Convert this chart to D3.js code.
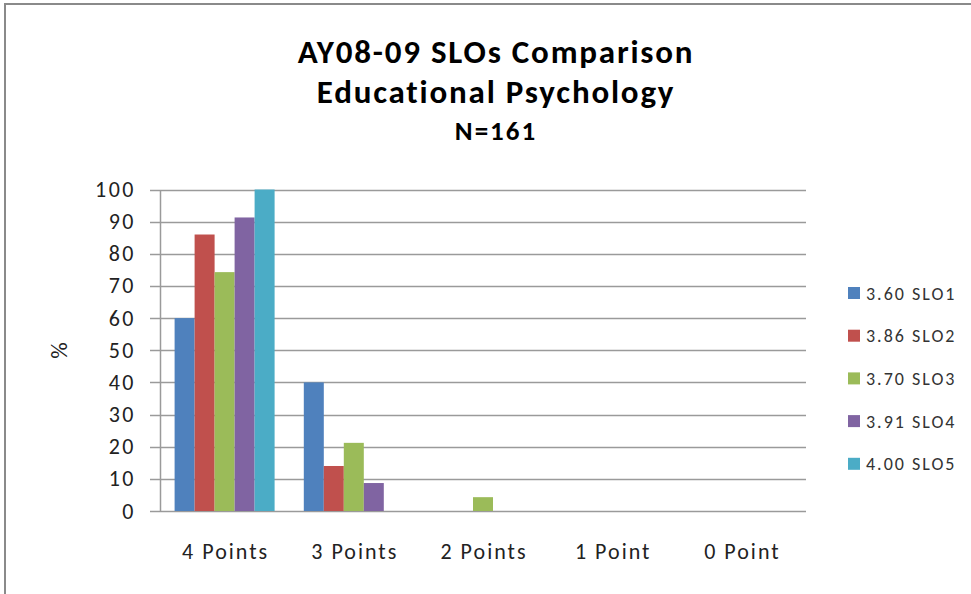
<!DOCTYPE html>
<html>
<head>
<meta charset="utf-8">
<script src="https://cdn.jsdelivr.net/npm/d3@7"></script>
<style>
    html, body { margin: 0; padding: 0; background: #fff; }
    svg { display: block; font-family: Carlito, Calibri, Lato, sans-serif; }
</style>
</head>
<body>
<div id="chart"></div>
<script>
// data
const categories = ["4 Points", "3 Points", "2 Points", "1 Point", "0 Point"];
const seriesNames = ["3.60 SLO1", "3.86 SLO2", "3.70 SLO3", "3.91 SLO4", "4.00 SLO5"];
const slo1 = [60, 40, 0, 0, 0];
const slo2 = [86, 14, 0, 0, 0];
const slo3 = [74.3, 21.2, 4.3, 0, 0];
const slo4 = [91.3, 8.7, 0, 0, 0];
const slo5 = [100, 0, 0, 0, 0];
const yTicks = [0, 10, 20, 30, 40, 50, 60, 70, 80, 90, 100];
const titleLines = ["AY08-09 SLOs Comparison", "Educational Psychology", "N=161"];

const colors = ["#4F81BD", "#C0504D", "#9BBB59", "#8064A2", "#4BACC6"];
const series = [slo1, slo2, slo3, slo4, slo5];

const W = 971, H = 594;
const plot = { left: 160, right: 806, top: 189.5, bottom: 511 };

const svg = d3.select("#chart").append("svg")
    .attr("width", W)
    .attr("height", H);

// chart area border (runs off the right / bottom of the shot)
svg.append("rect")
    .attr("x", 5).attr("y", 4)
    .attr("width", 1000).attr("height", 1000)
    .attr("fill", "none")
    .attr("stroke", "#8a8a8a")
    .attr("stroke-width", 2);

const y = d3.scaleLinear().domain([0, 100]).range([plot.bottom, plot.top]);
const x0 = d3.scaleBand().domain(categories).range([plot.left, plot.right]);
const gap = (x0.bandwidth() - 100) / 2;
const x1 = d3.scaleBand().domain(d3.range(series.length)).range([gap, x0.bandwidth() - gap]);

// gridlines
svg.append("g")
    .selectAll("line")
    .data(yTicks)
    .join("line")
    .attr("x1", plot.left - 10)
    .attr("x2", plot.right)
    .attr("y1", d => Math.round(y(d)) + 0.5)
    .attr("y2", d => Math.round(y(d)) + 0.5)
    .attr("stroke", "#9a9a9a")
    .attr("stroke-width", 1.5);

// bars
const groups = svg.append("g")
    .selectAll("g")
    .data(series)
    .join("g")
    .attr("fill", (d, i) => colors[i]);

groups.selectAll("rect")
    .data((d, i) => d.map((v, j) => ({ v, j, i })))
    .join("rect")
    .attr("x", d => x0(categories[d.j]) + x1(d.i))
    .attr("width", x1.bandwidth())
    .attr("y", d => y(d.v))
    .attr("height", d => y(0) - y(d.v));

// y axis
const yAxis = svg.append("g")
    .attr("transform", `translate(${plot.left},0)`)
    .call(d3.axisLeft(y).tickValues(yTicks).tickSize(0).tickPadding(24));
yAxis.select(".domain").attr("stroke", "#9a9a9a").attr("stroke-width", 1.5);
yAxis.selectAll("text")
    .attr("font-family", "Carlito, Calibri, Lato, sans-serif")
    .attr("font-size", 22)
    .attr("letter-spacing", 2.5)
    .attr("fill", "#222");

// x axis labels
const xAxis = svg.append("g")
    .attr("transform", `translate(0,${plot.bottom})`)
    .call(d3.axisBottom(x0).tickSize(0).tickPadding(32));
xAxis.select(".domain").remove();
xAxis.selectAll("text")
    .attr("font-family", "Carlito, Calibri, Lato, sans-serif")
    .attr("font-size", 22)
    .attr("letter-spacing", 2)
    .attr("dx", 1)
    .attr("fill", "#222");

// y label
svg.append("text")
    .attr("transform", "translate(67,350) rotate(-90)")
    .attr("text-anchor", "middle")
    .attr("font-size", 23)
    .attr("letter-spacing", 1)
    .attr("fill", "#222")
    .text("%");

// title
const titleY = [63, 103, 140];
const titleSize = [33, 33, 27];
const titleSpacing = [1.8, 1.8, 2];
svg.append("g")
    .selectAll("text")
    .data(titleLines)
    .join("text")
    .attr("x", 496)
    .attr("y", (d, i) => titleY[i])
    .attr("text-anchor", "middle")
    .attr("font-weight", "bold")
    .attr("font-size", (d, i) => titleSize[i])
    .attr("letter-spacing", (d, i) => titleSpacing[i])
    .attr("fill", "#000")
    .text(d => d);

// legend
const legend = svg.append("g")
    .selectAll("g")
    .data(seriesNames)
    .join("g")
    .attr("transform", (d, i) => `translate(848,${293 + i * 42.7})`);
legend.append("rect")
    .attr("x", 0).attr("y", -6)
    .attr("width", 12).attr("height", 12)
    .attr("fill", (d, i) => colors[i]);
legend.append("text")
    .attr("x", 18)
    .attr("y", 6.5)
    .attr("font-size", 18)
    .attr("letter-spacing", 2)
    .attr("fill", "#333")
    .text(d => d);
</script>
</body>
</html>
